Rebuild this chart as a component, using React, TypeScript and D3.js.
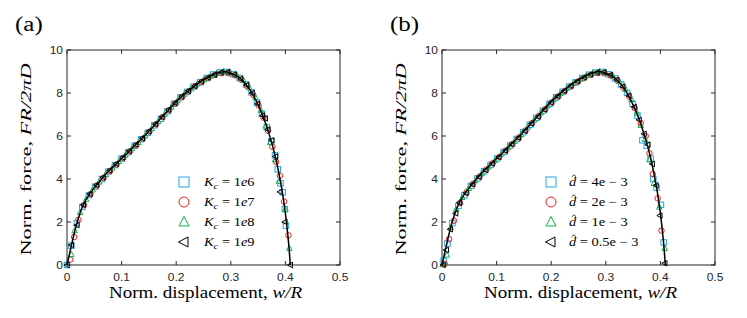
import React from "react";
import * as d3 from "d3";

type P = [number, number];

const X_TICKS = [0, 0.1, 0.2, 0.3, 0.4, 0.5];
const Y_TICKS = [0, 2, 4, 6, 8, 10];

// solid reference curve (same in both panels)
const LINE: P[] = [
  [0, 0], [0.004, 0.45], [0.008, 0.9], [0.012, 1.35], [0.016, 1.75], [0.02, 2.1], [0.025, 2.5],
  [0.03, 2.8], [0.035, 3.05], [0.04, 3.25], [0.05, 3.6], [0.06, 3.9], [0.07, 4.2], [0.08, 4.45],
  [0.09, 4.7], [0.1, 4.95], [0.12, 5.45], [0.14, 5.95], [0.16, 6.5], [0.18, 7.05], [0.2, 7.6],
  [0.22, 8.05], [0.24, 8.45], [0.26, 8.75], [0.27, 8.88], [0.28, 8.96], [0.29, 9.0], [0.3, 8.92],
  [0.31, 8.82], [0.32, 8.62], [0.33, 8.33], [0.34, 7.95], [0.35, 7.45], [0.36, 6.85], [0.37, 6.1],
  [0.38, 5.2], [0.385, 4.65], [0.39, 4.0], [0.395, 3.3], [0.4, 2.4], [0.404, 1.5], [0.407, 0.7], [0.409, 0],
];

// Panel (a)
const A_SQ: P[] = [
  [0, 0], [0.008, 0.9], [0.018, 1.95], [0.028, 2.7], [0.04, 3.25], [0.052, 3.65], [0.064, 4.0], [0.076, 4.35],
  [0.088, 4.65], [0.1, 4.95], [0.112, 5.25], [0.124, 5.55], [0.136, 5.85], [0.148, 6.15], [0.16, 6.5],
  [0.172, 6.8], [0.184, 7.15], [0.196, 7.5], [0.208, 7.8], [0.22, 8.05], [0.232, 8.3], [0.244, 8.5],
  [0.256, 8.7], [0.268, 8.86], [0.28, 8.96], [0.292, 8.98], [0.304, 8.88], [0.316, 8.7], [0.328, 8.4],
  [0.338, 8.03], [0.348, 7.55], [0.357, 7.03], [0.366, 6.4], [0.374, 5.75], [0.381, 5.1], [0.386, 4.45],
  [0.391, 3.8], [0.395, 3.38], [0.399, 2.6], [0.401, 1.83],
];
const A_CI: P[] = [
  [0.006, 0.25], [0.013, 1.3], [0.021, 2.1], [0.031, 2.78], [0.043, 3.3], [0.055, 3.7], [0.067, 4.05],
  [0.079, 4.38], [0.091, 4.68], [0.103, 4.98], [0.115, 5.28], [0.127, 5.58], [0.139, 5.88], [0.151, 6.2],
  [0.163, 6.55], [0.175, 6.88], [0.187, 7.2], [0.199, 7.52], [0.211, 7.82], [0.223, 8.08], [0.235, 8.32],
  [0.247, 8.52], [0.259, 8.7], [0.271, 8.84], [0.283, 8.92], [0.295, 8.92], [0.307, 8.82], [0.319, 8.62],
  [0.33, 8.32], [0.341, 7.92], [0.351, 7.42], [0.36, 6.85], [0.368, 6.25], [0.376, 5.5], [0.383, 4.8],
  [0.39, 4.15], [0.3976, 2.95], [0.4055, 1.38],
];
const A_TR: P[] = [
  [0.008, 0.5], [0.014, 1.6], [0.024, 2.45], [0.035, 3.05], [0.047, 3.5], [0.059, 3.87], [0.071, 4.22],
  [0.083, 4.52], [0.095, 4.82], [0.107, 5.12], [0.119, 5.42], [0.131, 5.7], [0.143, 6.02], [0.155, 6.35],
  [0.167, 6.68], [0.179, 7.02], [0.191, 7.35], [0.203, 7.67], [0.215, 7.95], [0.227, 8.2], [0.239, 8.43],
  [0.251, 8.62], [0.263, 8.79], [0.275, 8.92], [0.287, 9.0], [0.299, 8.96], [0.311, 8.84], [0.323, 8.6],
  [0.334, 8.25], [0.345, 7.8], [0.355, 7.2], [0.364, 6.47], [0.372, 5.7], [0.381, 4.9], [0.388, 3.9],
  [0.4, 2.6], [0.407, 0.78],
];
const A_LT: P[] = [
  [0, 0], [0.008, 0.93], [0.018, 1.85], [0.03, 2.8], [0.042, 3.3], [0.054, 3.72], [0.066, 4.08], [0.078, 4.4],
  [0.09, 4.7], [0.102, 5.0], [0.114, 5.3], [0.126, 5.6], [0.138, 5.9], [0.15, 6.22], [0.162, 6.55],
  [0.174, 6.88], [0.186, 7.22], [0.198, 7.55], [0.21, 7.85], [0.222, 8.1], [0.234, 8.33], [0.246, 8.54],
  [0.258, 8.72], [0.27, 8.86], [0.282, 8.96], [0.294, 8.98], [0.306, 8.86], [0.318, 8.66], [0.329, 8.37],
  [0.339, 8.0], [0.349, 7.5], [0.358, 6.95], [0.363, 6.82], [0.368, 6.3], [0.375, 5.8], [0.382, 5.05],
  [0.39, 3.4], [0.399, 2.0], [0.409, 0],
];

// Panel (b)
const B_SQ: P[] = [
  [0.003, 0.2], [0.01, 1.0], [0.019, 1.95], [0.03, 2.75], [0.041, 3.25], [0.053, 3.68], [0.065, 4.03],
  [0.077, 4.36], [0.089, 4.66], [0.101, 4.96], [0.113, 5.26], [0.125, 5.56], [0.137, 5.86], [0.149, 6.18],
  [0.161, 6.52], [0.173, 6.85], [0.185, 7.18], [0.197, 7.5], [0.209, 7.8], [0.221, 8.06], [0.233, 8.3],
  [0.245, 8.5], [0.257, 8.7], [0.269, 8.85], [0.281, 8.95], [0.293, 8.98], [0.305, 8.87], [0.317, 8.68],
  [0.328, 8.4], [0.339, 8.0], [0.349, 7.5], [0.358, 6.95], [0.367, 5.8], [0.375, 5.55], [0.382, 4.95],
  [0.387, 4.0], [0.393, 3.6], [0.401, 2.8], [0.406, 1.05],
];
const B_CI: P[] = [
  [0.005, 0.05], [0.013, 1.2], [0.022, 2.06], [0.033, 2.88], [0.045, 3.38], [0.057, 3.78], [0.069, 4.12],
  [0.081, 4.44], [0.093, 4.74], [0.105, 5.03], [0.117, 5.33], [0.129, 5.63], [0.141, 5.93], [0.153, 6.26],
  [0.165, 6.6], [0.177, 6.93], [0.189, 7.25], [0.201, 7.56], [0.213, 7.84], [0.225, 8.1], [0.237, 8.33],
  [0.249, 8.53], [0.261, 8.71], [0.273, 8.85], [0.285, 8.93], [0.297, 8.92], [0.309, 8.8], [0.321, 8.58],
  [0.332, 8.25], [0.343, 7.83], [0.353, 7.3], [0.364, 6.6], [0.373, 6.0], [0.38, 5.2], [0.386, 4.23],
  [0.395, 3.1], [0.402, 1.6],
];
const B_TR: P[] = [
  [0.001, 0.02], [0.009, 0.47], [0.016, 1.75], [0.026, 2.6], [0.037, 3.15], [0.049, 3.57], [0.061, 3.93],
  [0.073, 4.27], [0.085, 4.57], [0.097, 4.87], [0.109, 5.17], [0.121, 5.47], [0.133, 5.76], [0.145, 6.08],
  [0.157, 6.42], [0.169, 6.75], [0.181, 7.08], [0.193, 7.41], [0.205, 7.72], [0.217, 7.98], [0.229, 8.23],
  [0.241, 8.46], [0.253, 8.65], [0.265, 8.81], [0.277, 8.94], [0.289, 9.0], [0.301, 8.94], [0.313, 8.8],
  [0.325, 8.54], [0.336, 8.18], [0.347, 7.7], [0.357, 7.07], [0.364, 6.5], [0.372, 5.85], [0.38, 4.9],
  [0.388, 3.8], [0.398, 2.7], [0.408, 0.78],
];
const B_LT: P[] = [
  [0.002, 0.0], [0.008, 0.7], [0.015, 1.66], [0.025, 2.4], [0.032, 2.9], [0.044, 3.35], [0.056, 3.75],
  [0.068, 4.1], [0.08, 4.42], [0.092, 4.72], [0.104, 5.02], [0.116, 5.32], [0.128, 5.62], [0.14, 5.92],
  [0.152, 6.24], [0.164, 6.58], [0.176, 6.9], [0.188, 7.23], [0.2, 7.56], [0.212, 7.86], [0.224, 8.1],
  [0.236, 8.34], [0.248, 8.55], [0.26, 8.73], [0.272, 8.87], [0.284, 8.96], [0.296, 8.97], [0.308, 8.84],
  [0.32, 8.62], [0.331, 8.3], [0.342, 7.88], [0.352, 7.35], [0.361, 6.75], [0.37, 6.1], [0.377, 5.6],
  [0.385, 4.7], [0.392, 3.7], [0.399, 2.3], [0.408, 0.08],
];

const A_LABELS = ["1e6", "1e7", "1e8", "1e9"];
const B_LABELS = ["4e \u2212 3", "2e \u2212 3", "1e \u2212 3", "0.5e \u2212 3"];

const COLORS = ["#1ea7e1", "#f01e1e", "#16b04a", "#000000"];
const SERIF = "'Liberation Serif', 'Times New Roman', serif";
const SANS = "'Liberation Sans', Arial, sans-serif";
const AXIS_COLOR = "#262626";
const SX = 1.2; // horizontal stretch of the reference's lettering

function Marker({ kind, x, y, s, color }: { kind: number; x: number; y: number; s: number; color: string }) {
  const h = s / 2;
  if (kind === 0)
    return <rect x={x - h} y={y - h} width={s} height={s} fill="none" stroke={color} strokeWidth={1} />;
  if (kind === 1) return <circle cx={x} cy={y} r={h} fill="none" stroke={color} strokeWidth={1} />;
  if (kind === 2)
    return (
      <path
        d={`M${x},${y - h * 1.1}L${x + h},${y + h * 0.8}L${x - h},${y + h * 0.8}Z`}
        fill="none"
        stroke={color}
        strokeWidth={1}
      />
    );
  return (
    <path
      d={`M${x - h * 1.1},${y}L${x + h * 0.8},${y - h}L${x + h * 0.8},${y + h}Z`}
      fill="none"
      stroke={color}
      strokeWidth={1}
    />
  );
}

function Panel({
  left,
  right,
  tag,
  series,
  legendX,
  legendTextX,
  legendKind,
  labels,
}: {
  left: number;
  right: number;
  tag: string;
  series: P[][];
  legendX: number;
  legendTextX: number;
  legendKind: "a" | "b";
  labels: string[];
}) {
  const top = 50;
  const bottom = 265;
  const x = d3.scaleLinear().domain([0, 0.5]).range([left, right]);
  const y = d3.scaleLinear().domain([0, 10]).range([bottom, top]);
  const line = d3
    .line<P>()
    .x((d) => x(d[0]))
    .y((d) => y(d[1]))
    .curve(d3.curveMonotoneX);
  const tl = 4;
  const legendRows = [182, 202, 222, 242];
  const cx = (left + right) / 2 + 2;
  return (
    <g>
      <g transform={`translate(${left - 52},31) scale(1.25,1)`}>
        <text x={0} y={0} fontFamily={SERIF} fontSize={20} fill="#000">
          {tag}
        </text>
      </g>
      <rect x={left} y={top} width={right - left} height={bottom - top} fill="#fff" stroke={AXIS_COLOR} strokeWidth={1} />
      {X_TICKS.map((t) => (
        <g key={"x" + t}>
          <line x1={x(t)} x2={x(t)} y1={bottom} y2={bottom - tl} stroke={AXIS_COLOR} />
          <line x1={x(t)} x2={x(t)} y1={top} y2={top + tl} stroke={AXIS_COLOR} />
          <g transform={`translate(${x(t)},281) scale(${SX},1)`}>
            <text x={0} y={0} textAnchor="middle" fontFamily={SANS} fontSize={10} fill={AXIS_COLOR}>
              {String(t)}
            </text>
          </g>
        </g>
      ))}
      {Y_TICKS.map((t) => (
        <g key={"y" + t}>
          <line x1={left} x2={left + tl} y1={y(t)} y2={y(t)} stroke={AXIS_COLOR} />
          <line x1={right} x2={right - tl} y1={y(t)} y2={y(t)} stroke={AXIS_COLOR} />
          <g transform={`translate(${left - 4},${y(t) + 3.6}) scale(${SX},1)`}>
            <text x={0} y={0} textAnchor="end" fontFamily={SANS} fontSize={10} fill={AXIS_COLOR}>
              {String(t)}
            </text>
          </g>
        </g>
      ))}
      {series.map((pts, k) =>
        pts.map((p, i) => <Marker key={k + "-" + i} kind={k} x={x(p[0])} y={y(p[1])} s={5.5} color={COLORS[k]} />)
      )}
      <path d={line(LINE) || ""} fill="none" stroke="#000" strokeWidth={1.5} />
      {labels.map((lab, k) => (
        <g key={"leg" + k}>
          <Marker kind={k} x={legendX} y={legendRows[k]} s={10} color={COLORS[k]} />
          <g transform={`translate(${legendTextX},${legendRows[k] + 4}) scale(${SX},1)`}>
            {legendKind === "a" ? (
              <text x={0} y={0} fontFamily={SERIF} fontSize={12} fill="#000">
                <tspan fontStyle="italic">K</tspan>
                <tspan fontStyle="italic" fontSize={9} dy={3}>
                  c
                </tspan>
                <tspan dy={-3}>{" = 1"}</tspan>
                <tspan fontStyle="italic">e</tspan>
                <tspan>{lab.slice(2)}</tspan>
              </text>
            ) : (
              <>
                <path d="M2.3,-9.2L4.1,-11.2L5.9,-9.2" fill="none" stroke="#000" strokeWidth={0.7} />
                <text x={0} y={0} fontFamily={SERIF} fontSize={12} fill="#000">
                  <tspan fontStyle="italic">d</tspan>
                  <tspan>{" = " + lab}</tspan>
                </text>
              </>
            )}
          </g>
        </g>
      ))}
      <text
        x={cx}
        y={298}
        textAnchor="middle"
        fontFamily={SERIF}
        fontSize={16}
        fill="#000"
        textLength={193}
        lengthAdjust="spacingAndGlyphs"
      >
        <tspan>{"Norm. displacement, "}</tspan>
        <tspan fontStyle="italic">{"w/R"}</tspan>
      </text>
      <text
        transform={`translate(${left - 36},${(top + bottom) / 2 + 2}) rotate(-90)`}
        textAnchor="middle"
        fontFamily={SERIF}
        fontSize={15.5}
        fill="#000"
        textLength={192}
        lengthAdjust="spacingAndGlyphs"
      >
        <tspan>{"Norm. force,  "}</tspan>
        <tspan fontStyle="italic">{"FR/2\u03c0D"}</tspan>
      </text>
    </g>
  );
}

export default function App() {
  return (
    <svg
      width={747}
      height={318}
      viewBox="0 0 747 318"
      style={{ position: "absolute", left: 0, top: 0, background: "#fff" }}
    >
      <rect x={0} y={0} width={747} height={318} fill="#fff" />
      <Panel
        left={67}
        right={340}
        tag="(a)"
        series={[A_SQ, A_CI, A_TR, A_LT]}
        legendX={184}
        legendTextX={204}
        legendKind="a"
        labels={A_LABELS}
      />
      <Panel
        left={442}
        right={715}
        tag="(b)"
        series={[B_SQ, B_CI, B_TR, B_LT]}
        legendX={551}
        legendTextX={569}
        legendKind="b"
        labels={B_LABELS}
      />
    </svg>
  );
}
